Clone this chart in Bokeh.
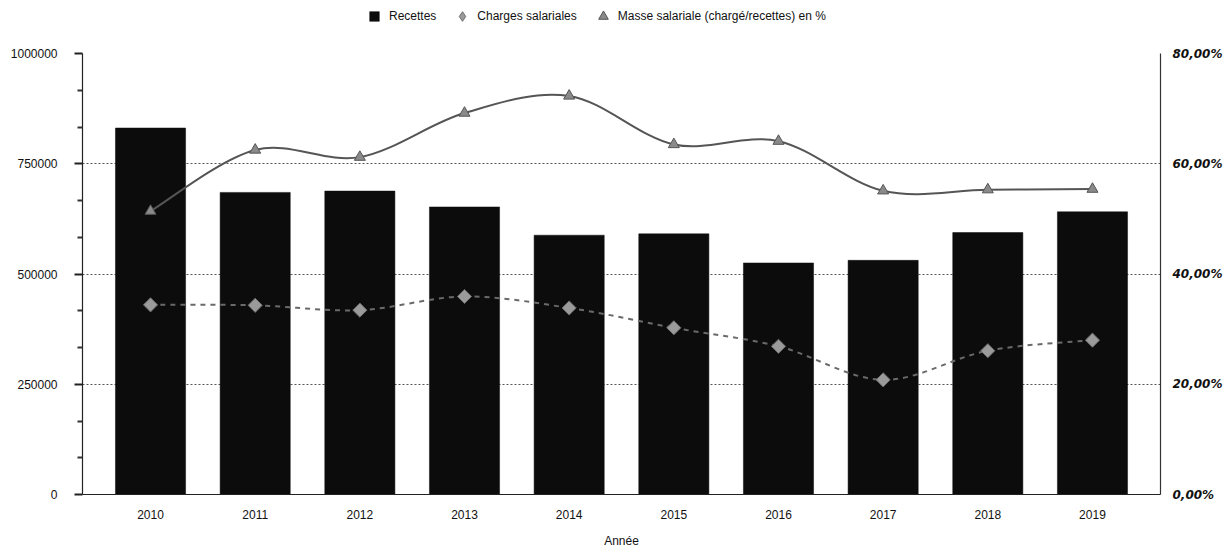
import numpy as np
from bokeh.plotting import figure
from bokeh.layouts import column
from bokeh.models import (Range1d, LinearAxis, FixedTicker, CustomJSTickFormatter,
                          Legend, LegendItem, ColumnDataSource)
from bokeh.embed import file_html
from bokeh.resources import INLINE

# Data
annees = [2010, 2011, 2012, 2013, 2014, 2015, 2016, 2017, 2018, 2019]
recettes = [831000, 685000, 688000, 652000, 588000, 591000, 525000, 531000, 594000, 641000]
charges = [430000, 429000, 418000, 449000, 423000, 378000, 336000, 260000, 326000, 350000]
masse_pct = [51.4, 62.5, 61.2, 69.2, 72.3, 63.5, 64.1, 55.1, 55.3, 55.4]

left_ticks = [0, 250000, 500000, 750000, 1000000]
right_ticks = [0, 20, 40, 60, 80]

FONT = "Liberation Sans"

BAR_STYLE = dict(fill_color="#0c0c0c", line_color="#0c0c0c", line_width=0.5)
DIAM_STYLE = dict(marker="square", angle=np.pi / 4, fill_color="#9a9a9a",
                  line_color="#6a6a6a", line_width=1)
TRI_STYLE = dict(marker="triangle", fill_color="#8a8a8a", line_color="#555555",
                 line_width=1)

p = figure(width=1225, height=507, output_backend="svg", toolbar_location=None,
           x_range=Range1d(2009.35, 2019.65), y_range=Range1d(0, 1000000),
           min_border_left=82, min_border_right=65, min_border_top=10,
           min_border_bottom=55)
p.outline_line_color = None
p.background_fill_color = "white"
p.border_fill_color = "white"
p.extra_y_ranges = {"pct": Range1d(0, 80)}

# Left axis with major and minor tick marks outside
yax = p.yaxis[0]
minor = [v for t in left_ticks[:-1] for v in (t + 250000 / 3, t + 500000 / 3)]
yax.ticker = FixedTicker(ticks=left_ticks, minor_ticks=minor)
yax.formatter = CustomJSTickFormatter(code="return tick.toFixed(0);")
yax.axis_line_color = "#222222"
yax.axis_line_width = 1.2
yax.major_tick_in = 0
yax.major_tick_out = 8
yax.minor_tick_in = 0
yax.minor_tick_out = 5
yax.major_tick_line_color = "#222222"
yax.major_tick_line_width = 2
yax.minor_tick_line_color = "#333333"
yax.minor_tick_line_width = 2
yax.major_label_standoff = 17
yax.major_label_text_font = FONT
yax.major_label_text_font_size = "12px"
yax.major_label_text_color = "#111111"

# Right axis (percentage)
rax = LinearAxis(y_range_name="pct",
                 ticker=FixedTicker(ticks=right_ticks),
                 formatter=CustomJSTickFormatter(
                     code="return tick.toFixed(2).replace('.', ',') + '%';"))
rax.axis_line_color = "#333333"
rax.axis_line_width = 1.2
rax.major_tick_line_color = None
rax.minor_tick_line_color = None
rax.major_label_standoff = 6
rax.major_label_text_font = "DejaVu Sans"
rax.major_label_text_font_style = "bold italic"
rax.major_label_text_font_size = "12px"
rax.major_label_text_color = "#111111"
p.add_layout(rax, "right")

# Bottom axis
xax = p.xaxis[0]
xax.ticker = FixedTicker(ticks=annees)
xax.axis_line_color = "#222222"
xax.axis_line_width = 1.2
xax.major_tick_line_color = None
xax.minor_tick_line_color = None
xax.major_label_standoff = 9
xax.major_label_text_font = FONT
xax.major_label_text_font_size = "12px"
xax.major_label_text_color = "#111111"
xax.axis_label = "Année"
xax.axis_label_standoff = 12
xax.axis_label_text_font = FONT
xax.axis_label_text_font_size = "12px"
xax.axis_label_text_font_style = "normal"
xax.axis_label_text_color = "#111111"

# Grid
p.xgrid.grid_line_color = None
p.ygrid.ticker = FixedTicker(ticks=left_ticks)
p.ygrid.grid_line_color = "#555555"
p.ygrid.grid_line_dash = "2 2"
p.ygrid.grid_line_width = 1

# Bars
src = ColumnDataSource(dict(x=annees, recettes=recettes, charges=charges, pct=masse_pct))
p.vbar(x="x", top="recettes", width=0.67, source=src, **BAR_STYLE)


def catmull_bezier(xs, ys):
    """Cubic bezier segments passing through every point (Catmull-Rom)."""
    xs = np.asarray(xs, dtype=float)
    ys = np.asarray(ys, dtype=float)
    n = len(xs)
    px = np.concatenate([[xs[0]], xs, [xs[-1]]])
    py = np.concatenate([[ys[0]], ys, [ys[-1]]])
    seg = dict(x0=[], y0=[], x1=[], y1=[], cx0=[], cy0=[], cx1=[], cy1=[])
    for i in range(n - 1):
        p0x, p1x, p2x, p3x = px[i], px[i + 1], px[i + 2], px[i + 3]
        p0y, p1y, p2y, p3y = py[i], py[i + 1], py[i + 2], py[i + 3]
        seg["x0"].append(p1x); seg["y0"].append(p1y)
        seg["x1"].append(p2x); seg["y1"].append(p2y)
        seg["cx0"].append(p1x + (p2x - p0x) / 6); seg["cy0"].append(p1y + (p2y - p0y) / 6)
        seg["cx1"].append(p2x - (p3x - p1x) / 6); seg["cy1"].append(p2y - (p3y - p1y) / 6)
    return seg


# Charges salariales: dashed smooth curve with diamonds
ch = catmull_bezier(annees, charges)
p.bezier(source=ColumnDataSource(ch), x0="x0", y0="y0", x1="x1", y1="y1",
         cx0="cx0", cy0="cy0", cx1="cx1", cy1="cy1",
         line_color="#6a6a6a", line_width=2, line_dash="5 5")
p.scatter(x="x", y="charges", source=src, size=10, **DIAM_STYLE)

# Masse salariale: solid smooth curve with triangles (right axis)
ms = catmull_bezier(annees, masse_pct)
p.bezier(source=ColumnDataSource(ms), x0="x0", y0="y0", x1="x1", y1="y1",
         cx0="cx0", cy0="cy0", cx1="cx1", cy1="cy1",
         line_color="#555555", line_width=2, y_range_name="pct")
p.scatter(x="x", y="pct", source=src, size=11, y_range_name="pct", **TRI_STYLE)

# Legend strip above the chart (swatch renderers sit outside the visible range)
lg = figure(width=1225, height=43, output_backend="svg", toolbar_location=None,
            x_range=Range1d(0, 1), y_range=Range1d(0, 1),
            x_axis_type=None, y_axis_type=None,
            min_border_left=0, min_border_right=0, min_border_top=0,
            min_border_bottom=0)
lg.outline_line_color = None
lg.xgrid.grid_line_color = None
lg.ygrid.grid_line_color = None
swatch = ColumnDataSource(dict(x=[-5], y=[-5]))
r_bar = lg.scatter(x="x", y="y", source=swatch, marker="square", **BAR_STYLE)
r_diam = lg.scatter(x="x", y="y", source=swatch, marker="diamond",
                    fill_color="#9a9a9a", line_color="#6a6a6a", line_width=1)
r_tri = lg.scatter(x="x", y="y", source=swatch, **TRI_STYLE)

legend = Legend(items=[
    LegendItem(label="Recettes", renderers=[r_bar]),
    LegendItem(label="Charges salariales", renderers=[r_diam]),
    LegendItem(label="Masse salariale (chargé/recettes) en %", renderers=[r_tri]),
], orientation="horizontal", location=(280, 15), padding=2, margin=0,
    spacing=14, glyph_width=24, glyph_height=24, label_standoff=3,
    border_line_color=None, background_fill_alpha=0,
    label_text_font=FONT, label_text_font_size="12px", label_text_color="#111111")
lg.add_layout(legend)

layout = column(lg, p, spacing=0)
open("out.html", "w").write(file_html(layout, INLINE))
